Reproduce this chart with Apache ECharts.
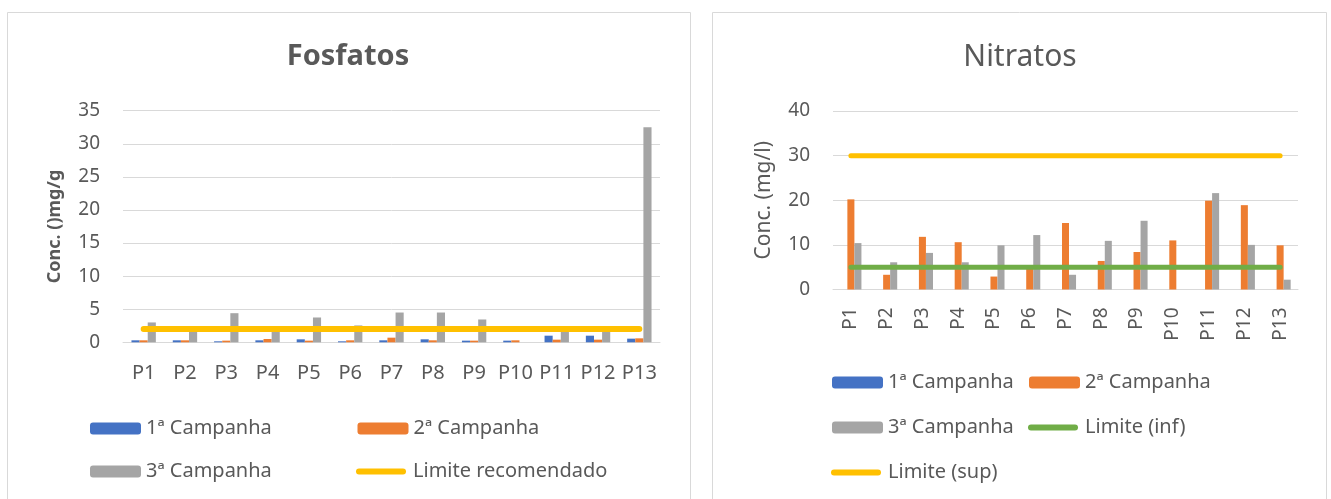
<!DOCTYPE html>
<html>
<head>
<meta charset="utf-8">
<script src="https://cdn.jsdelivr.net/npm/echarts@6/dist/echarts.min.js"></script>
<style>
  html, body { margin: 0; padding: 0; background: #ffffff; }
  #chart { width: 1331px; height: 499px; }
</style>
</head>
<body>
<div id="chart"></div>
<script>
// Sampling points
const categories = ['P1', 'P2', 'P3', 'P4', 'P5', 'P6', 'P7', 'P8', 'P9', 'P10', 'P11', 'P12', 'P13'];

// Fosfatos, Conc. (mg/g)
const fosfatos1 = [0.3, 0.3, 0.15, 0.3, 0.45, 0.15, 0.3, 0.45, 0.25, 0.25, 1.0, 1.0, 0.55];
const fosfatos2 = [0.3, 0.3, 0.25, 0.5, 0.25, 0.3, 0.7, 0.3, 0.25, 0.3, 0.4, 0.4, 0.6];
const fosfatos3 = [3.0, 2.2, 4.4, 2.45, 3.75, 2.55, 4.5, 4.5, 3.45, 0, 2.0, 2.0, 32.5];
const fosfatosLimite = [2, 2, 2, 2, 2, 2, 2, 2, 2, 2, 2, 2, 2];

// Nitratos, Conc. (mg/l)
const nitratos1 = [null, null, null, null, null, null, null, null, null, null, null, null, null];
const nitratos2 = [20.2, 3.3, 11.8, 10.6, 2.9, 4.9, 14.9, 6.4, 8.4, 11.0, 19.9, 18.9, 9.9];
const nitratos3 = [10.4, 6.1, 8.2, 6.1, 9.9, 12.2, 3.3, 10.9, 15.4, null, 21.6, 10.0, 2.2];
const nitratosLimInf = [5, 5, 5, 5, 5, 5, 5, 5, 5, 5, 5, 5, 5];
const nitratosLimSup = [30, 30, 30, 30, 30, 30, 30, 30, 30, 30, 30, 30, 30];

// Value axis ranges
const fosfatosAxis = { min: 0, max: 35, interval: 5 };
const nitratosAxis = { min: 0, max: 40, interval: 10 };

const FONT = '"Noto Sans", "Open Sans", sans-serif';
const TEXT = '#595959';
const GRID_LINE = '#D9D9D9';
const C_BLUE = '#4472C4', C_ORANGE = '#ED7D31', C_GRAY = '#A5A5A5';
const C_YELLOW = '#FFC000', C_GREEN = '#70AD47';

// Capsule-shaped legend key for the limit lines
const LINE_KEY = 'path://M3,0 L47,0 A3,3 0 0 1 47,6 L3,6 A3,3 0 0 1 3,0 Z';

const chart = echarts.init(document.getElementById('chart'), null, { renderer: 'canvas' });

function barSeries(name, data, color, idx) {
  return {
    name: name, type: 'bar', data: data,
    xAxisIndex: idx, yAxisIndex: idx,
    barGap: '0%', barCategoryGap: '41%',
    itemStyle: { color: color },
    animation: false
  };
}
function lineSeries(name, data, color, width, idx) {
  return {
    name: name, type: 'line', data: data,
    xAxisIndex: idx, yAxisIndex: idx,
    symbol: 'none', z: 5,
    lineStyle: { color: color, width: width, cap: 'round' },
    itemStyle: { color: color },
    animation: false
  };
}
function legendBar(name, left, top) {
  return {
    data: [name], left: left, top: top, padding: 0,
    itemWidth: 51, itemHeight: 12, itemGap: 0,
    textStyle: { color: TEXT, fontFamily: FONT, fontSize: 20 },
    selectedMode: false
  };
}
function legendLine(name, color, left, top) {
  return {
    data: [{ name: name, icon: LINE_KEY, itemStyle: { color: color } }],
    left: left, top: top, padding: 0,
    itemWidth: 54, itemHeight: 6, itemGap: 0,
    textStyle: { color: TEXT, fontFamily: FONT, fontSize: 20 },
    selectedMode: false
  };
}

const option = {
  backgroundColor: '#ffffff',
  textStyle: { fontFamily: FONT },
  animation: false,
  graphic: [
    { type: 'rect', shape: { x: 7.5, y: 12.5, width: 683, height: 500 },
      style: { fill: 'none', stroke: GRID_LINE, lineWidth: 1 }, silent: true },
    { type: 'rect', shape: { x: 712.5, y: 12.5, width: 614, height: 500 },
      style: { fill: 'none', stroke: GRID_LINE, lineWidth: 1 }, silent: true },
    { type: 'text', x: 348, y: 57,
      style: { text: 'Fosfatos', fill: TEXT, font: 'bold 29px ' + FONT,
               align: 'center', verticalAlign: 'middle', textAlign: 'center', textVerticalAlign: 'middle' } },
    { type: 'text', x: 1020, y: 57,
      style: { text: 'Nitratos', fill: TEXT, font: '30px ' + FONT,
               align: 'center', verticalAlign: 'middle', textAlign: 'center', textVerticalAlign: 'middle' } }
  ],
  legend: [
    legendBar('1ª Campanha', 90, 418.5),
    legendBar('2ª Campanha', 357.5, 418.5),
    legendBar('3ª Campanha', 90, 461.5),
    legendLine('Limite recomendado', C_YELLOW, 356, 461.5),
    legendBar('1ª Campanha', 832, 372.5),
    legendBar('2ª Campanha', 1029, 372.5),
    legendBar('3ª Campanha', 832, 417.5),
    legendLine('Limite (inf)', C_GREEN, 1028, 417.5),
    legendLine('Limite (sup)', C_YELLOW, 831, 462.5)
  ],
  grid: [
    { left: 123, top: 110.7, width: 537, height: 231.6, containLabel: false },
    { left: 833, top: 111, width: 465, height: 178.5, containLabel: false }
  ],
  xAxis: [
    {
      type: 'category', gridIndex: 0, data: categories,
      axisLine: { show: true, lineStyle: { color: GRID_LINE } },
      axisTick: { show: false },
      axisLabel: { color: TEXT, fontSize: 20, fontFamily: FONT, margin: 21, interval: 0 }
    },
    {
      type: 'category', gridIndex: 1, data: categories,
      axisLine: { show: true, lineStyle: { color: GRID_LINE } },
      axisTick: { show: false },
      axisLabel: { color: TEXT, fontSize: 19, fontFamily: FONT, margin: 18, interval: 0, rotate: 90 }
    }
  ],
  yAxis: [
    {
      type: 'value', gridIndex: 0,
      min: fosfatosAxis.min, max: fosfatosAxis.max, interval: fosfatosAxis.interval,
      name: 'Conc. ()mg/g', nameLocation: 'middle', nameGap: 59,
      nameTextStyle: { color: TEXT, fontSize: 18, fontWeight: 'bold', fontFamily: FONT },
      axisLine: { show: false }, axisTick: { show: false },
      axisLabel: { color: TEXT, fontSize: 19, fontFamily: FONT, margin: 23 },
      splitLine: { lineStyle: { color: GRID_LINE, width: 1 } }
    },
    {
      type: 'value', gridIndex: 1,
      min: nitratosAxis.min, max: nitratosAxis.max, interval: nitratosAxis.interval,
      name: 'Conc. (mg/l)', nameLocation: 'middle', nameGap: 58,
      nameTextStyle: { color: TEXT, fontSize: 21, fontFamily: FONT },
      axisLine: { show: false }, axisTick: { show: false },
      axisLabel: { color: TEXT, fontSize: 19, fontFamily: FONT, margin: 23 },
      splitLine: { lineStyle: { color: GRID_LINE, width: 1 } }
    }
  ],
  series: [
    barSeries('1ª Campanha', fosfatos1, C_BLUE, 0),
    barSeries('2ª Campanha', fosfatos2, C_ORANGE, 0),
    barSeries('3ª Campanha', fosfatos3, C_GRAY, 0),
    lineSeries('Limite recomendado', fosfatosLimite, C_YELLOW, 6, 0),
    barSeries('1ª Campanha', nitratos1, C_BLUE, 1),
    barSeries('2ª Campanha', nitratos2, C_ORANGE, 1),
    barSeries('3ª Campanha', nitratos3, C_GRAY, 1),
    lineSeries('Limite (inf)', nitratosLimInf, C_GREEN, 5, 1),
    lineSeries('Limite (sup)', nitratosLimSup, C_YELLOW, 5, 1)
  ]
};

chart.setOption(option);
</script>
</body>
</html>
